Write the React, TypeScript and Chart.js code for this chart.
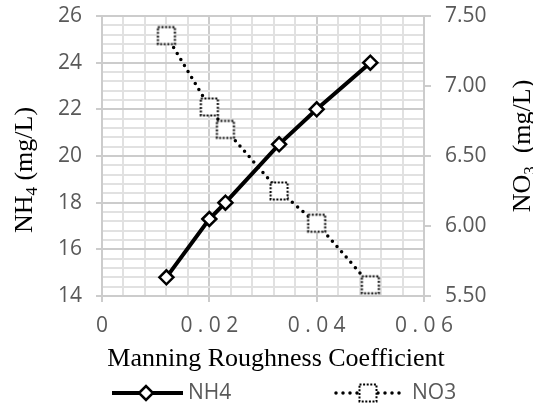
import React, { useEffect, useRef } from "react";
import { Chart, registerables } from "chart.js";
Chart.register(...registerables);

// ---- data ----
const roughness = [0.012, 0.02, 0.023, 0.033, 0.04, 0.05];
const nh4 = [14.8, 17.3, 18.0, 20.5, 22.0, 24.0];
const no3 = [7.36, 6.85, 6.69, 6.25, 6.02, 5.58];

const xMajorTicks = [0, 0.02, 0.04, 0.06];
const xTickLabels = ["0", "0 . 0 2", "0 . 0 4", "0 . 0 6"];
const yLeftMajorTicks = [14, 16, 18, 20, 22, 24, 26];
const yLeftTickLabels = ["14", "16", "18", "20", "22", "24", "26"];
const yRightTicks = [5.5, 6.0, 6.5, 7.0, 7.5];
const yRightTickLabels = ["5.50", "6.00", "6.50", "7.00", "7.50"];

const xTitle = "Manning Roughness Coefficient";
const seriesNames = ["NH4", "NO3"];

const MINOR_DIV = 5;
const TICK_FONT = { family: "'Open Sans', sans-serif", size: 21 };
const TICK_COLOR = "#595959";
const MAJOR_GRID = "#cccccc";
const MINOR_GRID = "#e1e1e1";

function subdivide(major: number[], n: number): number[] {
  const out: number[] = [];
  for (let i = 0; i < major.length - 1; i++) {
    for (let k = 0; k < n; k++) out.push(major[i] + ((major[i + 1] - major[i]) * k) / n);
  }
  out.push(major[major.length - 1]);
  return out;
}
function majorIndex(v: number, majors: number[]) {
  return majors.findIndex((m) => Math.abs(m - v) < 1e-9);
}

function makeDottedSquare(): HTMLCanvasElement {
  const c = document.createElement("canvas");
  c.width = 22;
  c.height = 22;
  const g = c.getContext("2d")!;
  g.fillStyle = "#ffffff";
  g.fillRect(2.5, 2.5, 17, 17);
  g.strokeStyle = "#000000";
  g.lineWidth = 2;
  g.setLineDash([2, 1.6]);
  g.strokeRect(2.5, 2.5, 17, 17);
  return c;
}

function drawRotatedTitle(
  ctx: CanvasRenderingContext2D,
  baselineX: number,
  centerY: number,
  parts: { t: string; sub?: boolean }[]
) {
  const big = "26px 'Liberation Serif', serif";
  const small = "17px 'Liberation Serif', serif";
  ctx.save();
  let total = 0;
  for (const p of parts) {
    ctx.font = p.sub ? small : big;
    total += ctx.measureText(p.t).width;
  }
  ctx.translate(baselineX, centerY);
  ctx.rotate(-Math.PI / 2);
  ctx.fillStyle = "#000";
  ctx.textAlign = "left";
  ctx.textBaseline = "alphabetic";
  let x = -total / 2;
  for (const p of parts) {
    ctx.font = p.sub ? small : big;
    ctx.fillText(p.t, x, p.sub ? 5 : 0);
    x += ctx.measureText(p.t).width;
  }
  ctx.restore();
}

export default function App() {
  const ref = useRef<HTMLCanvasElement>(null);
  useEffect(() => {
    if (!ref.current) return;
    const square = makeDottedSquare();

    const isMajorCtx = (c: any, majors: number[]) =>
      !c.tick || majorIndex(c.tick.value, majors) >= 0;

    const gridOpts = (majors: number[]) => ({
      color: (c: any) => (isMajorCtx(c, majors) ? MAJOR_GRID : MINOR_GRID),
      tickColor: (c: any) => (isMajorCtx(c, majors) ? MAJOR_GRID : "rgba(0,0,0,0)"),
      lineWidth: 2,
      tickWidth: 2,
      tickLength: 6,
      drawTicks: true,
    });

    const overlay = {
      id: "overlay",
      afterDraw(chart: any) {
        const ctx: CanvasRenderingContext2D = chart.ctx;
        // axis titles
        drawRotatedTitle(ctx, 32, 170, [{ t: "NH" }, { t: "4", sub: true }, { t: " (mg/L)" }]);
        drawRotatedTitle(ctx, 530, 146, [{ t: "NO" }, { t: "3", sub: true }, { t: "  (mg/L)" }]);
        ctx.save();
        ctx.font = "26px 'Liberation Serif', serif";
        ctx.fillStyle = "#000";
        ctx.textAlign = "center";
        ctx.textBaseline = "alphabetic";
        ctx.fillText(xTitle, 276, 366);
        ctx.restore();

        // legend
        const ly = 393;
        ctx.save();
        ctx.strokeStyle = "#000";
        ctx.lineWidth = 4;
        ctx.beginPath();
        ctx.moveTo(112, ly);
        ctx.lineTo(183, ly);
        ctx.stroke();
        ctx.beginPath();
        ctx.moveTo(146 - 7, ly);
        ctx.lineTo(146, ly - 7);
        ctx.lineTo(146 + 7, ly);
        ctx.lineTo(146, ly + 7);
        ctx.closePath();
        ctx.fillStyle = "#fff";
        ctx.fill();
        ctx.lineWidth = 2.5;
        ctx.stroke();

        ctx.lineWidth = 3.5;
        ctx.lineCap = "round";
        ctx.setLineDash([0, 7]);
        ctx.beginPath();
        ctx.moveTo(336, ly);
        ctx.lineTo(400, ly);
        ctx.stroke();
        ctx.setLineDash([]);
        ctx.drawImage(square, 368 - 11, ly - 11);

        ctx.font = "21px 'Open Sans', sans-serif";
        ctx.fillStyle = TICK_COLOR;
        ctx.textAlign = "left";
        ctx.textBaseline = "middle";
        ctx.fillText(seriesNames[0], 188, ly);
        ctx.fillText(seriesNames[1], 412, ly);
        ctx.restore();
      },
    };

    const chart = new Chart(ref.current, {
      type: "line",
      data: {
        datasets: [
          {
            label: seriesNames[0],
            data: roughness.map((x, i) => ({ x, y: nh4[i] })),
            yAxisID: "y",
            borderColor: "#000",
            borderWidth: 4,
            pointStyle: "rectRot",
            pointRadius: 7,
            pointBackgroundColor: "#fff",
            pointBorderColor: "#000",
            pointBorderWidth: 2.5,
            tension: 0,
          },
          {
            label: seriesNames[1],
            data: roughness.map((x, i) => ({ x, y: no3[i] })),
            yAxisID: "y2",
            borderColor: "#000",
            borderWidth: 3.5,
            borderDash: [0, 7],
            borderCapStyle: "round",
            pointStyle: square as any,
            pointRadius: 9,
            tension: 0,
          },
        ],
      },
      options: {
        animation: false,
        responsive: false,
        devicePixelRatio: 1,
        layout: { padding: { top: 16, left: 0, right: 0, bottom: 0 } },
        plugins: { legend: { display: false }, tooltip: { enabled: false } },
        scales: {
          x: {
            type: "linear",
            min: 0,
            max: 0.06,
            afterBuildTicks: (s: any) => {
              s.ticks = subdivide(xMajorTicks, MINOR_DIV).map((value) => ({ value }));
            },
            afterFit: (s: any) => {
              s.height = 110;
              s.paddingLeft = 0;
              s.paddingRight = 0;
            },
            ticks: {
              autoSkip: false,
              maxRotation: 0,
              font: TICK_FONT,
              color: TICK_COLOR,
              padding: 11,
              callback: (v: any) => {
                const i = majorIndex(Number(v), xMajorTicks);
                return i >= 0 ? xTickLabels[i] : "";
              },
            },
            grid: gridOpts(xMajorTicks),
            border: { display: true, color: MAJOR_GRID, width: 2 },
          },
          y: {
            type: "linear",
            position: "left",
            min: 14,
            max: 26,
            afterBuildTicks: (s: any) => {
              s.ticks = subdivide(yLeftMajorTicks, MINOR_DIV).map((value) => ({ value }));
            },
            afterFit: (s: any) => {
              s.width = 102;
              s.paddingTop = 0;
              s.paddingBottom = 0;
            },
            ticks: {
              autoSkip: false,
              font: TICK_FONT,
              color: TICK_COLOR,
              padding: 14,
              callback: (v: any) => {
                const i = majorIndex(Number(v), yLeftMajorTicks);
                return i >= 0 ? yLeftTickLabels[i] : "";
              },
            },
            grid: gridOpts(yLeftMajorTicks),
            border: { display: true, color: MAJOR_GRID, width: 2 },
          },
          y2: {
            type: "linear",
            position: "right",
            min: 5.5,
            max: 7.5,
            afterBuildTicks: (s: any) => {
              s.ticks = yRightTicks.map((value) => ({ value }));
            },
            afterFit: (s: any) => {
              s.width = 109;
              s.paddingTop = 0;
              s.paddingBottom = 0;
            },
            ticks: {
              autoSkip: false,
              font: TICK_FONT,
              color: TICK_COLOR,
              padding: 14,
              callback: (v: any) => {
                const i = majorIndex(Number(v), yRightTicks);
                return i >= 0 ? yRightTickLabels[i] : "";
              },
            },
            grid: {
              drawOnChartArea: false,
              color: MAJOR_GRID,
              tickColor: MAJOR_GRID,
              lineWidth: 2,
              tickLength: 7,
            },
            border: { display: true, color: MAJOR_GRID, width: 2 },
          },
        },
      } as any,
      plugins: [overlay],
    });
    return () => chart.destroy();
  }, []);

  return (
    <div style={{ position: "absolute", left: 0, top: 0, width: 533, height: 406, background: "#fff" }}>
      <canvas ref={ref} width={533} height={406} />
    </div>
  );
}
